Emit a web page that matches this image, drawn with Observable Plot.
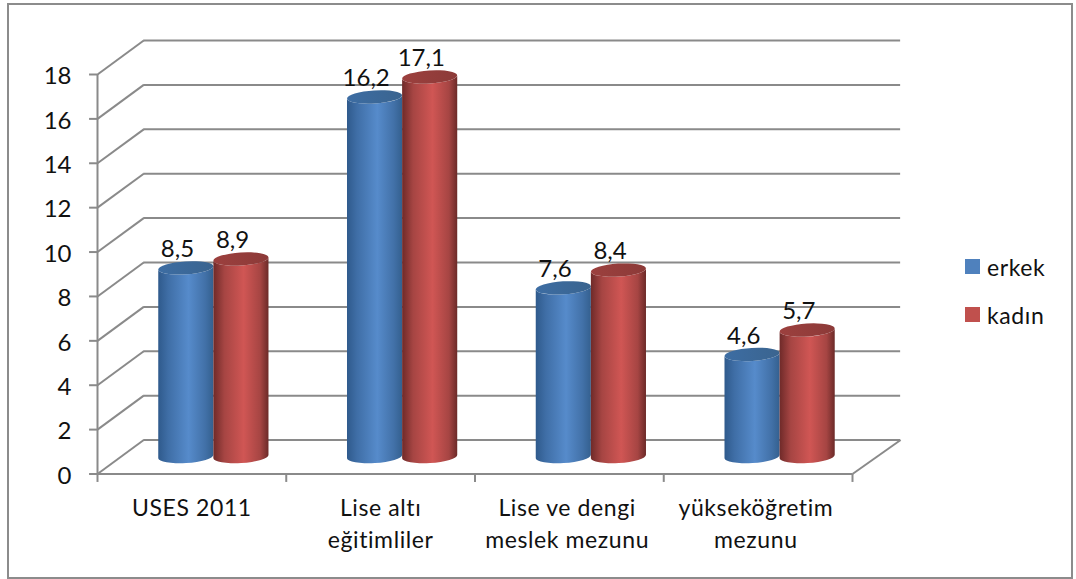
<!DOCTYPE html>
<html lang="tr">
<head>
<meta charset="utf-8">
<script src="https://cdn.jsdelivr.net/npm/d3@7"></script>
<script src="https://cdn.jsdelivr.net/npm/@observablehq/plot@0.6"></script>
<style>
  html, body { margin: 0; padding: 0; background: #fff; }
  #chart { position: relative; width: 1076px; height: 579px; overflow: hidden; font-family: Lato, "Open Sans", sans-serif; color: #111; }
  #chart svg { position: absolute; left: 0; top: 0; }
  #border { position: absolute; left: 7px; top: 3px; width: 1062px; height: 572px; border: 2px solid #8c8c8c; }
  .key { position: absolute; left: 965px; font-size: 23px; line-height: 24px; letter-spacing: 0.6px; white-space: nowrap; }
  .key i { position: absolute; left: 0; top: 4px; width: 15px; height: 15px; }
  .key span { position: absolute; left: 22px; top: 0; }
  .spaced { letter-spacing: 0.6px; }
</style>
</head>
<body>
<div id="chart">
  <div id="border"></div>
</div>
<script>
const categories = ["USES 2011", "Lise altı\neğitimliler", "Lise ve dengi\nmeslek mezunu", "yükseköğretim\nmezunu"];
const erkek = [8.5, 16.2, 7.6, 4.6];
const kadin = [8.9, 17.1, 8.4, 5.7];
const yTicks = [0, 2, 4, 6, 8, 10, 12, 14, 16, 18];
const seriesNames = ["erkek", "kadın"];
const seriesSwatches = ["#4f81bd", "#c0504d"];

// Oblique depth of the floor and back wall, in scale units.
const depthX = 0.245;
const depthY = 1.53;
const halfWidth = 0.146;
const pairShift = -0.006;
const lineGrey = "#8a8a8a";

const comma = (v) => String(v).replace(".", ",");

const rows = (values) => values.map((value, i) => ({value, i}));

// Horizontal shading across a cylinder.
function addGradient(defs, id, stops) {
  const g = defs.append("linearGradient").attr("id", id).attr("x1", 0).attr("x2", 1).attr("y1", 0).attr("y2", 0);
  for (const [offset, color] of stops) g.append("stop").attr("offset", offset).attr("stop-color", color);
}

// Replaces each rect with a slightly tilted cylinder spanning the same box.
function cylinders(side, top) {
  return (index, scales, values) => {
    const g = d3.create("svg:g");
    for (const i of index) {
      const xa = values.x1[i], xb = values.x2[i];
      const yBase = values.y1[i], yTop = values.y2[i];
      const rx = (xb - xa) / 2, cx = (xa + xb) / 2, ry = 6.5, tilt = 3.5;
      const lift = rx * Math.sin(tilt * Math.PI / 180);
      g.append("path")
        .attr("fill", `url(#${side})`)
        .attr("d", `M${xa},${yTop + lift}L${xa},${yBase + lift}`
          + `A${rx},${ry} ${-tilt} 0 0 ${xb},${yBase - lift}`
          + `L${xb},${yTop - lift}A${rx},${ry} ${-tilt} 0 1 ${xa},${yTop + lift}Z`);
      g.append("ellipse")
        .attr("fill", `url(#${top})`)
        .attr("rx", rx).attr("ry", ry)
        .attr("transform", `translate(${cx},${yTop}) rotate(${-tilt})`);
    }
    return g.node();
  };
}

const cylinderMark = (values, offset, side, top) =>
  Plot.rect(rows(values), {
    x1: (d) => d.i + 0.5 + depthX / 2 + pairShift + offset - halfWidth,
    x2: (d) => d.i + 0.5 + depthX / 2 + pairShift + offset + halfWidth,
    y1: depthY / 2,
    y2: (d) => d.value + depthY / 2,
    render: cylinders(side, top)
  });

const valueLabels = (values, offset) =>
  Plot.text(rows(values), {
    x: (d) => d.i + 0.5 + depthX / 2 + offset - halfWidth / 2 + 0.02,
    y: (d) => d.value + depthY / 2,
    text: (d) => comma(d.value),
    dy: -19,
    fontSize: 24
  });

const chart = Plot.plot({
  width: 1076,
  height: 579,
  marginLeft: 97,
  marginRight: 224,
  marginTop: 74,
  marginBottom: 105.5,
  style: {background: "transparent", fontFamily: "Lato, 'Open Sans', sans-serif", color: "#111"},
  x: {domain: [0, 4], axis: null},
  y: {domain: [0, 18], axis: null},
  marks: [
    () => {
      const defs = d3.create("svg:defs");
      addGradient(defs, "blueSide", [[0, "#2f5a8c"], [0.18, "#3f6ea6"], [0.55, "#568bcb"], [0.85, "#4271a8"], [1, "#34608f"]]);
      addGradient(defs, "blueTop", [[0, "#3d6da3"], [1, "#3a648f"]]);
      addGradient(defs, "redSide", [[0, "#6f2a29"], [0.2, "#a64543"], [0.55, "#d05654"], [0.85, "#a64543"], [1, "#6c2a28"]]);
      addGradient(defs, "redTop", [[0, "#9c403e"], [1, "#8c3a38"]]);
      return defs.node();
    },
    // Back wall gridlines and the diagonals joining them to the value axis
    Plot.ruleY(yTicks, {y: (d) => d + depthY, x1: depthX, x2: 4 + depthX + 0.01, stroke: lineGrey, strokeWidth: 2}),
    Plot.link(yTicks, {x1: 0, y1: (d) => d, x2: depthX, y2: (d) => d + depthY, stroke: lineGrey, strokeWidth: 2}),
    Plot.link([0], {x1: 4, y1: 0, x2: 4 + depthX + 0.01, y2: depthY, stroke: lineGrey, strokeWidth: 2}),
    // Front axes
    Plot.ruleX([0], {y1: 0, y2: 18, stroke: lineGrey, strokeWidth: 2}),
    Plot.ruleY([0], {x1: 0, x2: 4, stroke: lineGrey, strokeWidth: 2}),
    Plot.ruleX([0, 1, 2, 3, 4], {y1: 0, y2: -0.38, stroke: lineGrey, strokeWidth: 2}),
    Plot.tickY(yTicks, {x1: 0, x2: 0, y: (d) => d, stroke: "none"}),
    Plot.ruleY(yTicks, {x1: -0.042, x2: 0, y: (d) => d, stroke: lineGrey, strokeWidth: 2}),
    Plot.text(yTicks, {x: 0, y: (d) => d, dx: -26, dy: 2, text: (d) => String(d), textAnchor: "end", fontSize: 24, fill: "#111"}),
    // One cylinder pair per category; the red one sits over the blue edge
    cylinderMark(erkek, -halfWidth, "blueSide", "blueTop"),
    cylinderMark(kadin, halfWidth, "redSide", "redTop"),
    valueLabels(erkek, -halfWidth),
    valueLabels(kadin, halfWidth),
    // Category labels below the floor
    Plot.text(categories, {
      x: (d, i) => i + 0.5 - (i > 1 ? 0.012 : 0),
      y: -0.82,
      text: (d) => d,
      lineAnchor: "top",
      lineHeight: 1.43,
      fontSize: 23,
      className: "spaced"
    })
  ]
});

const root = document.getElementById("chart");
root.appendChild(chart);

// Series key to the right of the plot
seriesNames.forEach((name, i) => {
  const key = document.createElement("div");
  key.className = "key";
  key.style.top = 255 + i * 48 + "px";
  const swatch = document.createElement("i");
  swatch.style.background = seriesSwatches[i];
  const label = document.createElement("span");
  label.textContent = name;
  key.append(swatch, label);
  root.appendChild(key);
});
</script>
</body>
</html>
